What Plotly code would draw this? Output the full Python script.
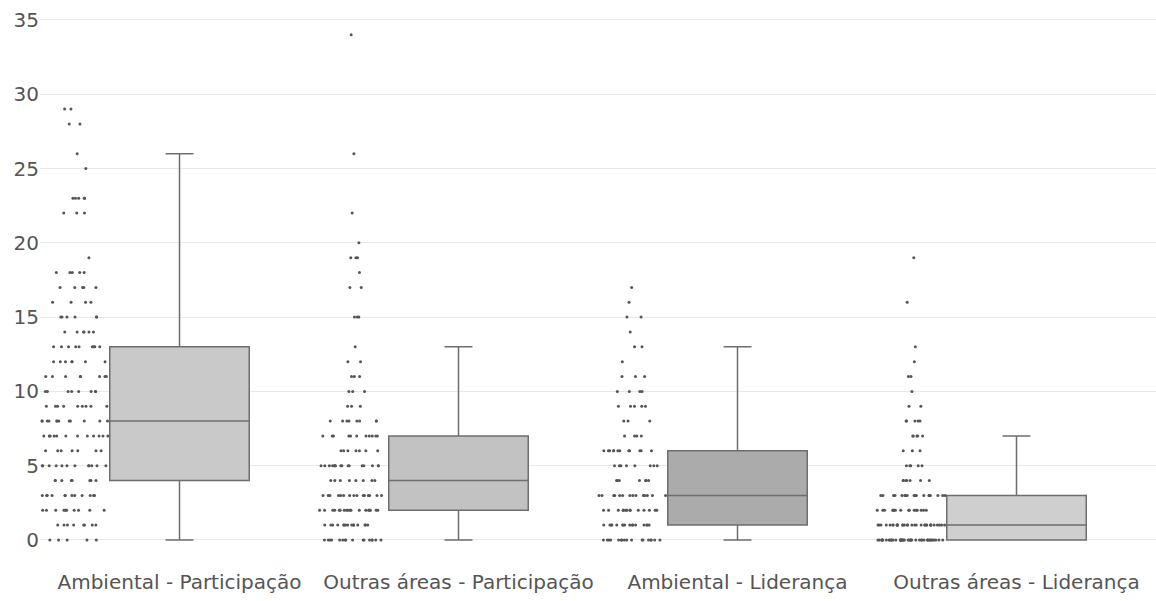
import numpy as np
import plotly.graph_objects as go

categories = ["Ambiental - Participação", "Outras áreas - Participação",
              "Ambiental - Liderança", "Outras áreas - Liderança"]

amb_part_values = [0, 1, 2, 3, 4, 5, 6, 7, 8, 9, 10, 11, 12, 13, 14, 15, 16, 17, 18, 19, 22, 23, 25, 26, 28, 29]
amb_part_counts = [5, 8, 10, 12, 8, 12, 7, 12, 12, 9, 8, 8, 7, 9, 6, 6, 4, 5, 5, 1, 3, 5, 1, 1, 2, 2]

out_part_values = [0, 1, 2, 3, 4, 5, 6, 7, 8, 9, 10, 11, 12, 13, 15, 17, 18, 19, 20, 22, 26, 34]
out_part_counts = [16, 15, 18, 15, 8, 16, 7, 11, 8, 3, 3, 3, 2, 1, 3, 2, 1, 3, 1, 1, 1, 1]

amb_lid_values = [0, 1, 2, 3, 4, 5, 6, 7, 8, 9, 10, 11, 12, 13, 14, 15, 16, 17]
amb_lid_counts = [17, 16, 14, 14, 7, 8, 12, 4, 3, 5, 4, 3, 1, 2, 1, 2, 1, 1]

out_lid_values = [0, 1, 2, 3, 4, 5, 6, 7, 8, 9, 10, 11, 12, 13, 16, 19]
out_lid_counts = [44, 32, 16, 18, 7, 5, 3, 5, 5, 2, 1, 2, 1, 1, 1, 1]

series = [
    (amb_part_values, amb_part_counts, "#c9c9c9"),
    (out_part_values, out_part_counts, "#c2c2c2"),
    (amb_lid_values, amb_lid_counts, "#ababab"),
    (out_lid_values, out_lid_counts, "#cfcfcf"),
]

fig = go.Figure()
for cat, (vals, cnts, fill) in zip(categories, series):
    y = np.repeat(vals, cnts)
    fig.add_trace(go.Box(
        y=y,
        x=[cat] * len(y),
        name=cat,
        boxpoints="all",
        jitter=0.5,
        pointpos=-1.5,
        whiskerwidth=0.2,
        fillcolor=fill,
        line=dict(color="#6e6e6e", width=1.5),
        marker=dict(color="#555555", size=3),
        showlegend=False,
    ))

fig.update_layout(
    width=1156, height=601,
    margin=dict(l=40, r=0, t=10, b=45),
    paper_bgcolor="white", plot_bgcolor="white",
    boxgap=0.5, boxgroupgap=0,
    font=dict(family="DejaVu Sans, Verdana, sans-serif", size=20, color="#555555"),
    xaxis=dict(showgrid=False, zeroline=False, showline=False,
               categoryorder="array", categoryarray=categories,
               range=[-0.5, 3.5], ticklabelstandoff=12, automargin=False),
    yaxis=dict(range=[-1.08, 35.67], tickvals=[0, 5, 10, 15, 20, 25, 30, 35],
               showgrid=True, gridcolor="#e8e8e8", gridwidth=1,
               zeroline=True, zerolinecolor="#e8e8e8", zerolinewidth=1,
               showline=False, automargin=False),
)

fig.write_html("out.html", config={"displayModeBar": False},
               post_script="document.body.style.margin='0';")
